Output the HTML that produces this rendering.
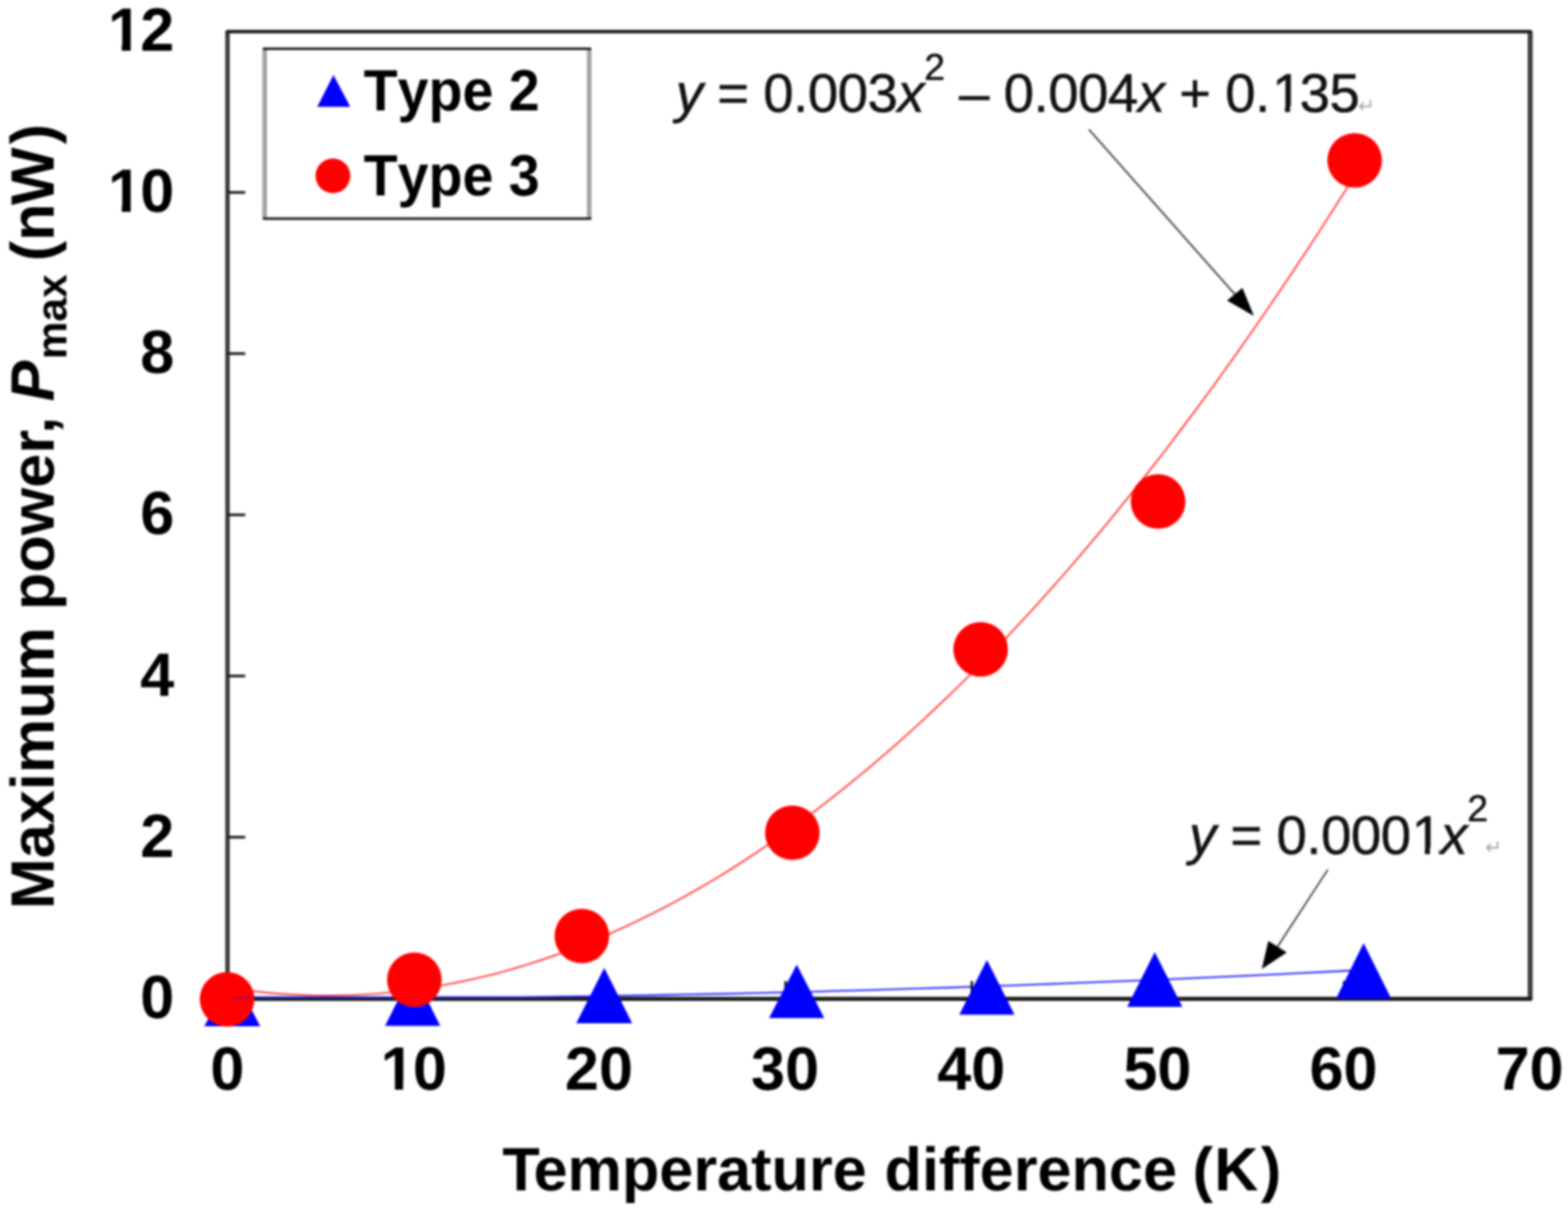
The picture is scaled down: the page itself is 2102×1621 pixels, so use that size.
<!DOCTYPE html>
<html lang="en"><head><meta charset="utf-8"><title>Maximum power vs temperature difference</title>
<style>
html,body{margin:0;padding:0;background:#fff;}
body{width:2102px;height:1621px;overflow:hidden;}
svg{display:block;font-family:"Liberation Sans",sans-serif;font-kerning:none;font-feature-settings:"kern" 0,"liga" 0;text-rendering:geometricPrecision;}
.b{font-weight:bold;fill:#000;}
.i{font-style:italic;}
.eq{fill:#111;stroke:#111;stroke-width:0.7px;}
.ret{font-family:"DejaVu Sans","Liberation Sans",sans-serif;fill:#a8a8a8;}
.w{fill:#fff;}
#chart{filter:blur(1.6px);}
</style></head><body>
<svg width="2102" height="1621" viewBox="0 0 2102 1621">
<rect x="0" y="0" width="2102" height="1621" fill="#ffffff"/>
<g id="chart">
<!-- plot frame -->
<line x1="305.0" y1="42.2" x2="305.0" y2="1338.9" stroke="#3c3c3c" stroke-width="6"/>
<line x1="2051.3" y1="42.2" x2="2051.3" y2="1338.9" stroke="#3c3c3c" stroke-width="6.6"/>
<line x1="304.7" y1="42.4" x2="2051.6" y2="42.4" stroke="#1e1e1e" stroke-width="4.8" stroke-linecap="round"/>
<line x1="304.7" y1="1339.2" x2="2051.6" y2="1339.2" stroke="#1a1a1a" stroke-width="5.6" stroke-linecap="round"/>
<line x1="304.7" y1="1122.5" x2="328.7" y2="1122.5" stroke="#1c1c1c" stroke-width="3.6"/>
<line x1="304.7" y1="906.4" x2="328.7" y2="906.4" stroke="#1c1c1c" stroke-width="3.6"/>
<line x1="304.7" y1="690.3" x2="328.7" y2="690.3" stroke="#1c1c1c" stroke-width="3.6"/>
<line x1="304.7" y1="474.1" x2="328.7" y2="474.1" stroke="#1c1c1c" stroke-width="3.6"/>
<line x1="304.7" y1="258.0" x2="328.7" y2="258.0" stroke="#1c1c1c" stroke-width="3.6"/>
<!-- y axis tick labels -->
<text class="b" x="144.8 187.9" y="68.0" font-size="82">12</text>
<rect class="w" x="144" y="57.4" width="19.3" height="13"/><rect class="w" x="175.2" y="57.4" width="14.6" height="13"/>
<text class="b" x="144.8 187.9" y="284.1" font-size="82">10</text>
<rect class="w" x="144" y="273.5" width="19.3" height="13"/><rect class="w" x="175.2" y="273.5" width="14.6" height="13"/>
<text class="b" x="187.9" y="500.2" font-size="82">8</text>
<text class="b" x="187.9" y="716.4" font-size="82">6</text>
<text class="b" x="187.9" y="932.5" font-size="82">4</text>
<text class="b" x="187.9" y="1148.6" font-size="82">2</text>
<text class="b" x="187.9" y="1364.7" font-size="82">0</text>
<!-- x axis tick labels -->
<text class="b" x="281.9" y="1461.2" font-size="82">0</text>
<text class="b" x="510.3 553.4" y="1461.2" font-size="82">10</text>
<rect class="w" x="510.2" y="1450.6" width="19.3" height="13"/><rect class="w" x="540.4" y="1450.6" width="14.6" height="13"/>
<text class="b" x="757.3" y="1461.2" font-size="82">20</text>
<text class="b" x="1006.8" y="1461.2" font-size="82">30</text>
<text class="b" x="1256.4" y="1461.2" font-size="82">40</text>
<text class="b" x="1505.9" y="1461.2" font-size="82">50</text>
<text class="b" x="1755.4" y="1461.2" font-size="82">60</text>
<text class="b" x="2004.9" y="1461.2" font-size="82">70</text>
<!-- x axis title -->
<text class="b" x="673.5" y="1596.4" font-size="82" dx="0 -8.39 0 0 0 0 0 0 0 0 0 0 1.08 0 0 0 0 0 0 0 0 0 0 -1.78 1.69 3.18">Temperature difference (K)</text>
<!-- y axis title -->
<text class="b" transform="translate(72,0) rotate(-90)" x="-1219" y="0" font-size="82" dx="0 0 0 0 0 0 0 0 0 0 0 0 0 -4.97">Maximum power, <tspan class="i" dx="-2.46">P</tspan><tspan font-size="57" dy="17" dx="1.71">max</tspan><tspan dy="-17" dx="0 -5.36 0 -2.2 4.2"> (nW)</tspan></text>
<!-- fitted curves -->
<polyline points="304.7,1324.3 323.8,1327.1 342.9,1329.4 361.9,1331.3 381.0,1332.8 400.1,1333.9 419.2,1334.6 438.2,1334.8 457.3,1334.6 476.4,1334.0 495.5,1333.0 514.5,1331.5 533.6,1329.6 552.7,1327.3 571.8,1324.6 590.9,1321.5 609.9,1317.9 629.0,1313.9 648.1,1309.5 667.2,1304.7 686.2,1299.4 705.3,1293.7 724.4,1287.6 743.5,1281.1 762.5,1274.2 781.6,1266.8 800.7,1259.0 819.8,1250.8 838.9,1242.2 857.9,1233.1 877.0,1223.7 896.1,1213.8 915.2,1203.5 934.2,1192.7 953.3,1181.6 972.4,1170.0 991.5,1158.0 1010.5,1145.5 1029.6,1132.7 1048.7,1119.4 1067.8,1105.7 1086.8,1091.6 1105.9,1077.1 1125.0,1062.1 1144.1,1046.7 1163.2,1030.9 1182.2,1014.7 1201.3,998.1 1220.4,981.0 1239.5,963.5 1258.5,945.6 1277.6,927.3 1296.7,908.5 1315.8,889.3 1334.8,869.7 1353.9,849.7 1373.0,829.3 1392.1,808.4 1411.2,787.1 1430.2,765.4 1449.3,743.3 1468.4,720.7 1487.5,697.7 1506.5,674.3 1525.6,650.5 1544.7,626.3 1563.8,601.6 1582.8,576.5 1601.9,551.0 1621.0,525.1 1640.1,498.7 1659.2,472.0 1678.2,444.8 1697.3,417.2 1716.4,389.1 1735.5,360.7 1754.5,331.8 1773.6,302.5 1792.7,272.7 1811.8,242.6" fill="none" stroke="#ff3a3a" stroke-width="2.2"/>
<polyline points="312.2,1336.8 350.8,1336.8 389.3,1336.8 427.9,1336.8 466.5,1336.8 505.1,1336.8 543.7,1336.8 582.2,1336.8 620.8,1336.8 659.4,1336.8 698.0,1336.8 736.6,1336.4 775.1,1335.9 813.7,1335.3 852.3,1334.7 890.9,1334.0 929.4,1333.2 968.0,1332.5 1006.6,1331.6 1045.2,1330.7 1083.8,1329.8 1122.3,1328.7 1160.9,1327.6 1199.5,1326.4 1238.1,1325.2 1276.7,1324.0 1315.2,1322.7 1353.8,1321.3 1392.4,1319.9 1431.0,1318.4 1469.5,1316.9 1508.1,1315.4 1546.7,1313.8 1585.3,1312.1 1623.9,1310.4 1662.4,1308.6 1701.0,1306.8 1739.6,1304.9 1778.2,1303.0 1816.8,1301.0" fill="none" stroke="#2a2aff" stroke-width="2.3"/>
<line x1="554.2" y1="1338.9" x2="554.2" y2="1315.4" stroke="#222" stroke-width="3.6"/>
<line x1="803.7" y1="1338.9" x2="803.7" y2="1315.4" stroke="#222" stroke-width="3.6"/>
<line x1="1053.2" y1="1338.9" x2="1053.2" y2="1315.4" stroke="#222" stroke-width="3.6"/>
<line x1="1302.8" y1="1338.9" x2="1302.8" y2="1315.4" stroke="#222" stroke-width="3.6"/>
<line x1="1552.3" y1="1338.9" x2="1552.3" y2="1315.4" stroke="#222" stroke-width="3.6"/>
<line x1="1801.8" y1="1338.9" x2="1801.8" y2="1315.4" stroke="#222" stroke-width="3.6"/>
<!-- Type 2 markers -->
<polygon points="311.4,1305 273.9,1376 348.9,1376" fill="#0000ff"/>
<polygon points="553.2,1301.5 516.2,1375.5 590.2,1375.5" fill="#0000ff"/>
<polygon points="810,1297.8 772.5,1372 847.5,1372" fill="#0000ff"/>
<polygon points="1068,1293.3 1031,1365 1105,1365" fill="#0000ff"/>
<polygon points="1323,1287 1286,1360.5 1360,1360.5" fill="#0000ff"/>
<polygon points="1548,1276.5 1511,1350 1585,1350" fill="#0000ff"/>
<polygon points="1828,1264.5 1791,1339 1865,1339" fill="#0000ff"/>
<!-- Type 3 markers -->
<circle cx="304.4" cy="1339.8" r="36.6" fill="#ff0000"/>
<circle cx="555.5" cy="1313.6" r="36.6" fill="#ff0000"/>
<circle cx="780" cy="1255" r="36.6" fill="#ff0000"/>
<circle cx="1062.2" cy="1116.5" r="36.6" fill="#ff0000"/>
<circle cx="1314.6" cy="870.6" r="36.6" fill="#ff0000"/>
<circle cx="1552.5" cy="672.4" r="36.6" fill="#ff0000"/>
<circle cx="1816" cy="215" r="36.6" fill="#ff0000"/>
<line x1="313" y1="1337.8" x2="336" y2="1337.8" stroke="#6000b0" stroke-width="1.3"/>
<!-- legend -->
<rect class="w" x="354.8" y="65.3" width="435.5" height="227.4"/>
<line x1="354.8" y1="64.5" x2="354.8" y2="294" stroke="#a2a2a2" stroke-width="6.2"/>
<line x1="789.9" y1="64.5" x2="789.9" y2="294" stroke="#a2a2a2" stroke-width="6.2"/>
<line x1="352.5" y1="65.4" x2="792.6" y2="65.4" stroke="#151515" stroke-width="3.1"/>
<line x1="352.5" y1="293.1" x2="792.6" y2="293.1" stroke="#151515" stroke-width="3.1"/>
<polygon points="447,100.5 425.3,143.3 469.6,143.3" fill="#0000ff"/>
<circle cx="446.3" cy="235.7" r="23.3" fill="#ff0000"/>
<text class="b" transform="translate(487.5,148.2) scale(0.955,1)" font-size="78">Type 2</text>
<text class="b" transform="translate(487.5,262) scale(0.955,1)" font-size="78">Type 3</text>
<!-- trend-line equations -->
<text class="eq" x="906" y="150.3" font-size="73" letter-spacing="-0.6"><tspan class="i">y</tspan> = 0.003<tspan class="i">x</tspan><tspan font-size="50" dy="-43.5">2</tspan><tspan dy="43.5"> – 0.004</tspan><tspan class="i">x</tspan><tspan dx="0 0 0 0 0 3 -3"> + 0.135</tspan></text>
<text class="eq" x="1594" y="1144.5" font-size="73" letter-spacing="-0.6"><tspan class="i">y</tspan><tspan dx="0 0 0 0 0 0 0 0 1.5"> = 0.0001</tspan><tspan class="i" dx="-1.5">x</tspan><tspan font-size="50" dy="-43.5">2</tspan></text>
<text class="ret" x="1820.5" y="150.5" font-size="27">↵</text>
<text class="ret" x="1991" y="1145" font-size="27">↵</text>
<rect class="w" x="1707" y="142.4" width="15.6" height="10"/><rect class="w" x="1729.4" y="142.4" width="14.4" height="10"/>
<rect class="w" x="1894" y="1136.6" width="16.1" height="10"/><rect class="w" x="1916.9" y="1136.6" width="12" height="10"/>
<!-- callout arrows -->
<line x1="1459.7" y1="173.6" x2="1662" y2="402" stroke="#3a3a3a" stroke-width="2.2"/>
<polygon points="1680.9,423.6 1645,403 1665.5,386" fill="#000"/>
<line x1="1780" y1="1166" x2="1705" y2="1281" stroke="#3a3a3a" stroke-width="2.2"/>
<polygon points="1691.5,1299.3 1700.3,1261.5 1725,1277" fill="#000"/>
</g>
</svg>
</body></html>
